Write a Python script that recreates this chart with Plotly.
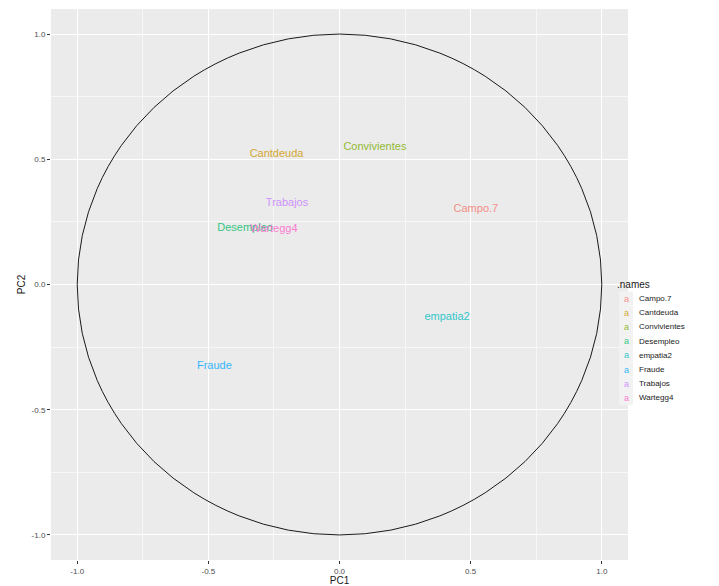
import plotly.graph_objects as go

# ---- data ----
names = ["Campo.7", "Cantdeuda", "Convivientes", "Desempleo",
         "empatia2", "Fraude", "Trabajos", "Wartegg4"]
pc1 = [0.52, -0.24, 0.135, -0.36, 0.41, -0.477, -0.20, -0.25]
pc2 = [0.30, 0.52, 0.548, 0.224, -0.132, -0.328, 0.324, 0.22]
colors = ["#F8766D", "#CD9600", "#7CAE00", "#00BE67",
          "#00BFC4", "#00A9FF", "#C77CFF", "#FF61CC"]
tick_vals = [-1.0, -0.5, 0.0, 0.5, 1.0]
tick_text = ["-1.0", "-0.5", "0.0", "0.5", "1.0"]
legend_title = ".names"

FONT = "Liberation Sans, Arial, sans-serif"

fig = go.Figure()
for n, x, y, c in zip(names, pc1, pc2, colors):
    fig.add_trace(go.Scatter(
        x=[x], y=[y], mode="text", text=[n], name=n,
        textposition="middle center", opacity=0.8,
        textfont=dict(family=FONT, size=11, color=c),
        showlegend=False, hoverinfo="text"))

# unit circle
fig.add_shape(type="circle", xref="x", yref="y", x0=-1, y0=-1, x1=1, y1=1,
              line=dict(color="#1a1a1a", width=1), layer="above")

# manual ggplot-style legend
W, H = 577.0, 551.0
def px(x):
    return (x - 51) / W
def py(y):
    return (560 - y) / H

fig.add_annotation(x=px(615), y=py(284), xref="paper", yref="paper",
                   text=legend_title, showarrow=False, xanchor="left",
                   yanchor="middle", font=dict(family=FONT, size=10, color="#1a1a1a"))
for i, (n, c) in enumerate(zip(names, colors)):
    yy = 298.5 + i * 14.2
    fig.add_shape(type="rect", xref="paper", yref="paper",
                  x0=px(619), x1=px(633), y0=py(yy - 7), y1=py(yy + 7),
                  fillcolor="#F2F2F2", line=dict(width=0))
    fig.add_annotation(x=px(626), y=py(yy), xref="paper", yref="paper",
                       text="a", showarrow=False, xanchor="center", yanchor="middle",
                       opacity=0.8,
                       font=dict(family=FONT, size=9, color=c))
    fig.add_annotation(x=px(637), y=py(yy), xref="paper", yref="paper",
                       text=n, showarrow=False, xanchor="left", yanchor="middle",
                       font=dict(family=FONT, size=8, color="#1a1a1a"))

axis_common = dict(
    range=[-1.1, 1.1], tickvals=tick_vals, ticktext=tick_text,
    showgrid=True, gridcolor="white", gridwidth=1.1,
    zeroline=False, showline=False, automargin=False,
    ticks="outside", ticklen=3, tickcolor="#333333", tickwidth=1,
    tickfont=dict(family=FONT, size=8, color="#4D4D4D"),
    minor=dict(dtick=0.25, tick0=0, showgrid=True, gridcolor="#F7F7F7", gridwidth=0.6),
)
fig.update_xaxes(**axis_common, title=dict(text="PC1", standoff=2,
                 font=dict(family=FONT, size=10, color="#1a1a1a")))
fig.update_yaxes(**axis_common, title=dict(text="PC2", standoff=4,
                 font=dict(family=FONT, size=10, color="#1a1a1a")))

fig.update_layout(
    width=719, height=586,
    margin=dict(l=51, r=91, t=9, b=26, autoexpand=False),
    plot_bgcolor="#EBEBEB", paper_bgcolor="white",
    showlegend=False,
)
fig.write_html("out.html", config={"displayModeBar": False},
               post_script="document.body.style.margin='0';document.body.style.overflow='hidden';")
